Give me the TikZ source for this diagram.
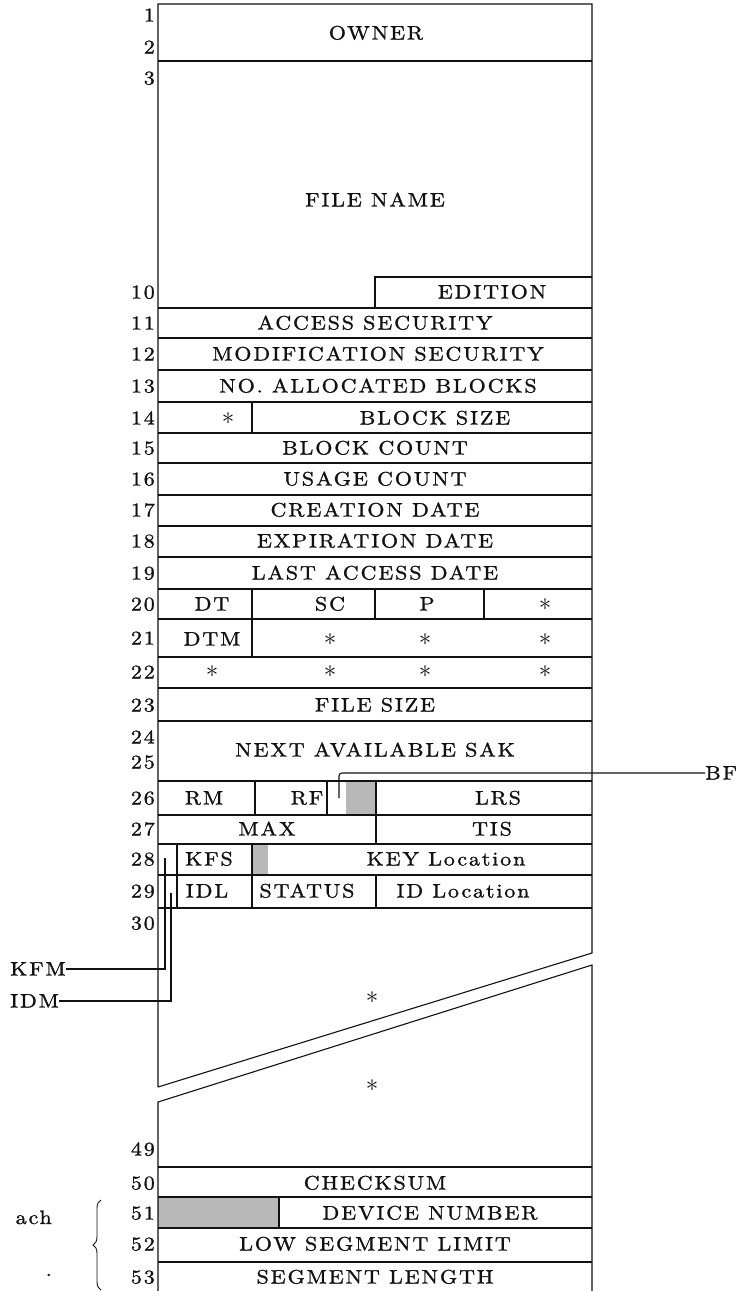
\documentclass[tikz,border=0pt]{standalone}
\usepackage{fontspec}
\usepackage{xcolor}
\definecolor{ink}{HTML}{111111}
\definecolor{stipple}{HTML}{B8B8B8}
\usepackage{tikz}
\usetikzlibrary{decorations.pathreplacing}
\newfontfamily\recfamily{lmroman10-regular.otf}[FakeStretch=1.13, FakeBold=1.2, LetterSpace=9.5]
\newfontfamily\starfamily{lmroman10-regular.otf}
\newcommand{\recfont}{\recfamily\fontsize{19.5}{21}\selectfont}

\tikzset{
  rule/.style={draw=ink, line width=1.1pt},
  field/.style={font=\recfont, text=ink, inner sep=0pt, text height=13pt, text depth=0pt},
  rownum/.style={field, anchor=east},
  starmark/.style={field, font=\starfamily\fontsize{25}{27}\selectfont, yshift=-6.5pt},
  shaded/.style={fill=stipple},
}

\begin{document}
\begin{tikzpicture}[x=1pt, y=-1pt]
  \useasboundingbox (0,0) rectangle (736,1291);
  % stippled fields
  \fill[shaded] (346,781) rectangle (376,815);
  \fill[shaded] (252,844) rectangle (268,875);
  \fill[shaded] (158,1197) rectangle (279,1228);
  % outline, broken by the two slanted cut lines
  \draw[rule] (158,1087) -- (158,4) -- (592,4) -- (592,953) -- (158,1087);
  \draw[rule] (158,1291) -- (158,1102) -- (592,965) -- (592,1291);
  \foreach \y in {61,308,338,370,402,433,463,495,526,557,589,619,657,688,721,
                  781,815,844,875,908,1167,1197,1228,1262}
    \draw[rule] (158,\y) -- (592,\y);
  % field dividers
  \draw[rule] (375,308) |- (592,277);
  \draw[rule] (252,402) -- (252,433);
  \draw[rule] (252,589) -- (252,657);
  \draw[rule] (375,589) -- (375,619);
  \draw[rule] (484,589) -- (484,619);
  \draw[rule] (255,781) -- (255,815);
  \draw[rule] (327,781) -- (327,815);
  \draw[rule] (376,781) -- (376,844);
  \draw[rule] (177,844) -- (177,908);
  \draw[rule] (252,844) -- (252,908);
  \draw[rule] (376,875) -- (376,908);
  \draw[rule] (279,1197) -- (279,1228);

  % word numbers
  \foreach \n/\y in {1/15,2/47,3/78,10/292,11/323,12/354,13/386,14/418,15/448,
                     16/479,17/510,18/541,19/573,20/604,21/638,22/672,23/705,
                     24/737,25/762,26/798,27/829,28/859,29/891,30/923,
                     49/1149,50/1183,51/1213,52/1244,53/1277}
    \node[rownum] (w\n) at (155,\y) {\n};

  % field names
  \node[field] (owner)    at (376,33)  {OWNER};
  \node[field] (filename) at (375,200) {FILE NAME};
  \node[field] (edition)  at (492,292) {EDITION};
  \node[field] (accsec)   at (375,323) {ACCESS SECURITY};
  \node[field] (modsec)   at (378,354) {MODIFICATION SECURITY};
  \node[field] (alloc)    at (378,386) {NO. ALLOCATED BLOCKS};
  \node[starmark] (spare14) at (228,418) {*};
  \node[field] (blksize)  at (435,418) {BLOCK SIZE};
  \node[field] (blkcount) at (375,448) {BLOCK COUNT};
  \node[field] (usage)    at (375,479) {USAGE COUNT};
  \node[field] (created)  at (375,510) {CREATION DATE};
  \node[field] (expires)  at (375,541) {EXPIRATION DATE};
  \node[field] (lastacc)  at (375,573) {LAST ACCESS DATE};
  \node[field] (dt)       at (212,604) {DT};
  \node[field] (sc)       at (330,604) {SC};
  \node[field] (p)        at (427,604) {P};
  \node[starmark] (spare20) at (545,604) {*};
  \node[field] (dtm)      at (212,639) {DTM};
  \foreach \i/\x in {a/330,b/425,c/545}
    \node[starmark] (spare21\i) at (\x,639) {*};
  \foreach \i/\x in {a/212,b/330,c/425,d/545}
    \node[starmark] (spare22\i) at (\x,671) {*};
  \node[field] (filesize) at (375,705) {FILE SIZE};
  \node[field] (sak)      at (375,750) {NEXT AVAILABLE SAK};
  \node[field] (rm)       at (204,798) {RM};
  \node[field] (rf)       at (307,798) {RF};
  \node[field] (lrs)      at (498,798) {LRS};
  \node[field] (max)      at (267,829) {MAX};
  \node[field] (tis)      at (492,829) {TIS};
  \node[field] (kfs)      at (209,859) {KFS};
  \node[field] (keyloc)   at (446,859) {KEY Location};
  \node[field] (idl)      at (207,891) {IDL};
  \node[field] (status)   at (307,891) {STATUS};
  \node[field] (idloc)    at (463,891) {ID Location};
  \node[starmark] (gapa)  at (372,997) {*};
  \node[starmark] (gapb)  at (372,1085) {*};
  \node[field] (checksum) at (375,1183) {CHECKSUM};
  \node[field] (device)   at (430,1213) {DEVICE NUMBER};
  \node[field] (lowseg)   at (375,1244) {LOW SEGMENT LIMIT};
  \node[field] (seglen)   at (375,1277) {SEGMENT LENGTH};

  % flag bits called out at the sides
  \node[field, anchor=west] (bf)  at (705,773)  {BF};
  \node[field, anchor=west] (kfm) at (10,969)   {KFM};
  \node[field, anchor=west] (idm) at (10,1001)  {IDM};
  \coordinate (bfbit)  at (339,798);
  \coordinate (kfmbit) at (165,858);
  \coordinate (idmbit) at (171,893);
  \draw[rule, rounded corners=3pt] (bf.west) -| (bfbit);
  \draw[rule] (kfm.east) -| (kfmbit);
  \draw[rule] (idm.east) -| (idmbit);

  % note at the left, cut off by the page
  \node[field, anchor=base east, text height=, text depth=] (note1) at (52,1224) {ach};
  \node[field, anchor=base east, text height=, text depth=] (note2) at (52,1276) {.};
  \draw[draw=ink, line width=0.9pt, decorate, decoration={brace, amplitude=8pt}]
       (101,1290) -- (101,1200);
\end{tikzpicture}
\end{document}
